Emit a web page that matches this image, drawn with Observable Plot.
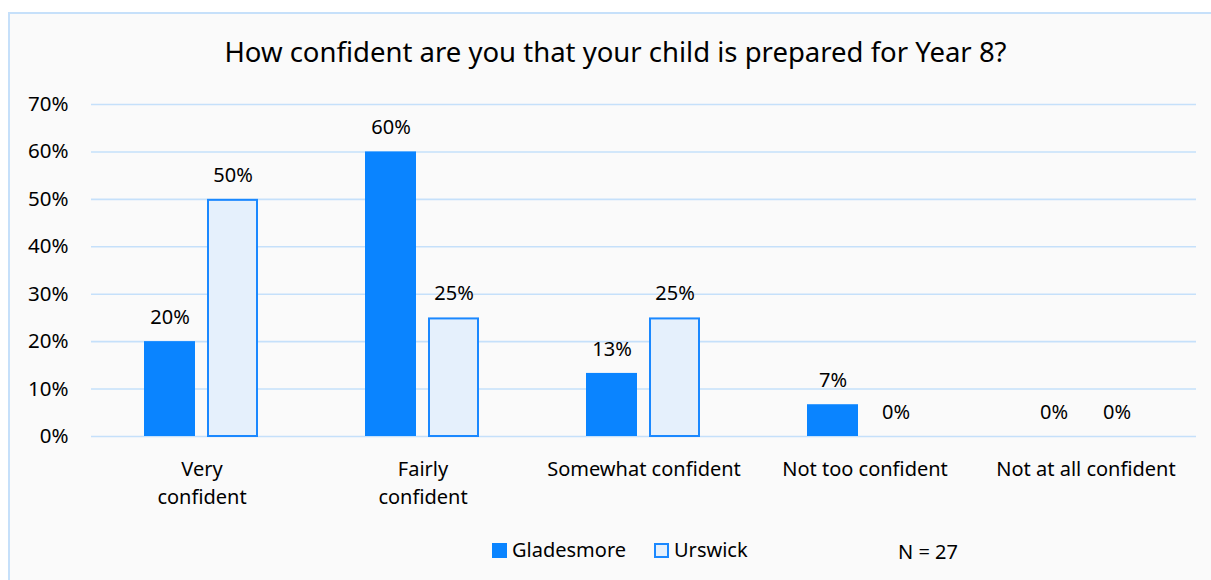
<!DOCTYPE html>
<html>
<head>
<meta charset="utf-8">
<script src="https://cdn.jsdelivr.net/npm/d3@7"></script>
<script src="https://cdn.jsdelivr.net/npm/@observablehq/plot@0.6"></script>
<style>
  html, body { margin: 0; padding: 0; background: #ffffff; overflow: hidden; }
  body { width: 1211px; height: 580px; position: relative; font-family: "Noto Sans", sans-serif; color: #000; }
  #frame { position: absolute; left: 8px; top: 12px; width: 1215px; height: 580px; border: 2px solid #c6e0fa; background: #fafafa; box-sizing: border-box; }
  #title { position: absolute; left: 0; top: 38px; width: 1231px; text-align: center; font-size: 27.5px; line-height: 28px; white-space: nowrap; }
  #chart { position: absolute; left: 0; top: 0; }
  .lg { position: absolute; font-size: 20px; line-height: 24px; white-space: nowrap; }
  .sw { position: absolute; width: 15px; height: 15px; box-sizing: border-box; }
</style>
</head>
<body>
<div id="frame"></div>
<div id="title"></div>
<div id="chart"></div>
<div id="legend"></div>
<script>
const categories = ["Very confident", "Fairly confident", "Somewhat confident", "Not too confident", "Not at all confident"];
const tickLabels = ["Very\nconfident", "Fairly\nconfident", "Somewhat confident", "Not too confident", "Not at all confident"];
const series = ["Gladesmore", "Urswick"];
const gladesmore = [20, 60, 13.3, 6.7, 0];
const urswick = [50, 25, 25, 0, 0];
const yTicks = [0, 10, 20, 30, 40, 50, 60, 70];
const titleText = "How confident are you that your child is prepared for Year 8?";
const noteText = "N = 27";

const colors = { Gladesmore: "#0a84ff", Urswick: "#e5f0fc" };
const urswickStroke = "#1a88ff";

const data = categories.flatMap((c, i) => [
  { category: c, school: series[0], value: gladesmore[i] },
  { category: c, school: series[1], value: urswick[i] }
]);

document.getElementById("title").textContent = titleText;

const chart = Plot.plot({
  width: 1211,
  height: 520,
  marginLeft: 90,
  marginRight: 14,
  marginTop: 104,
  marginBottom: 84,
  style: { background: "transparent", fontFamily: "Noto Sans", fontSize: "20px", color: "#000" },
  fx: { domain: categories, padding: 0, axis: null },
  x: { domain: series, paddingInner: 0.1875, paddingOuter: 0.823, axis: null },
  y: { domain: [0, 70] },
  marks: [
    Plot.ruleY(yTicks, { stroke: "#c5e0fa", strokeWidth: 1.6 }),
    Plot.barY(data.filter(d => d.school === "Gladesmore" && d.value > 0), {
      fx: "category", x: "school", y: "value", fill: colors.Gladesmore
    }),
    Plot.barY(data.filter(d => d.school === "Urswick" && d.value > 0), {
      fx: "category", x: "school", y: "value", fill: colors.Urswick,
      stroke: urswickStroke, strokeWidth: 2, insetLeft: 1, insetRight: 1, insetTop: 1
    }),
    Plot.text(data, {
      fx: "category", x: "school", y: "value",
      text: d => Math.round(d.value) + "%", dy: -24, fontSize: 20, fill: "#000"
    }),
    Plot.axisY(yTicks, { tickFormat: d => d + "%", tickSize: 0, tickPadding: 23, fontSize: 20.5, label: null, fill: "#000" }),
    Plot.text(categories, {
      fx: d => d, text: (d, i) => tickLabels[i], frameAnchor: "bottom",
      lineAnchor: "top", dy: 20, lineHeight: 1.4, fontSize: 20, fill: "#000"
    })
  ]
});
document.getElementById("chart").appendChild(chart);

const legend = document.getElementById("legend");
legend.innerHTML = `
  <div class="sw" style="left:492px; top:543px; background:${colors.Gladesmore};"></div>
  <div class="lg" style="left:512px; top:538px;">${series[0]}</div>
  <div class="sw" style="left:654px; top:543px; background:${colors.Urswick}; border:2px solid ${urswickStroke};"></div>
  <div class="lg" style="left:674px; top:538px;">${series[1]}</div>
  <div class="lg" style="left:898px; top:540px;">${noteText}</div>
`;
</script>
</body>
</html>
